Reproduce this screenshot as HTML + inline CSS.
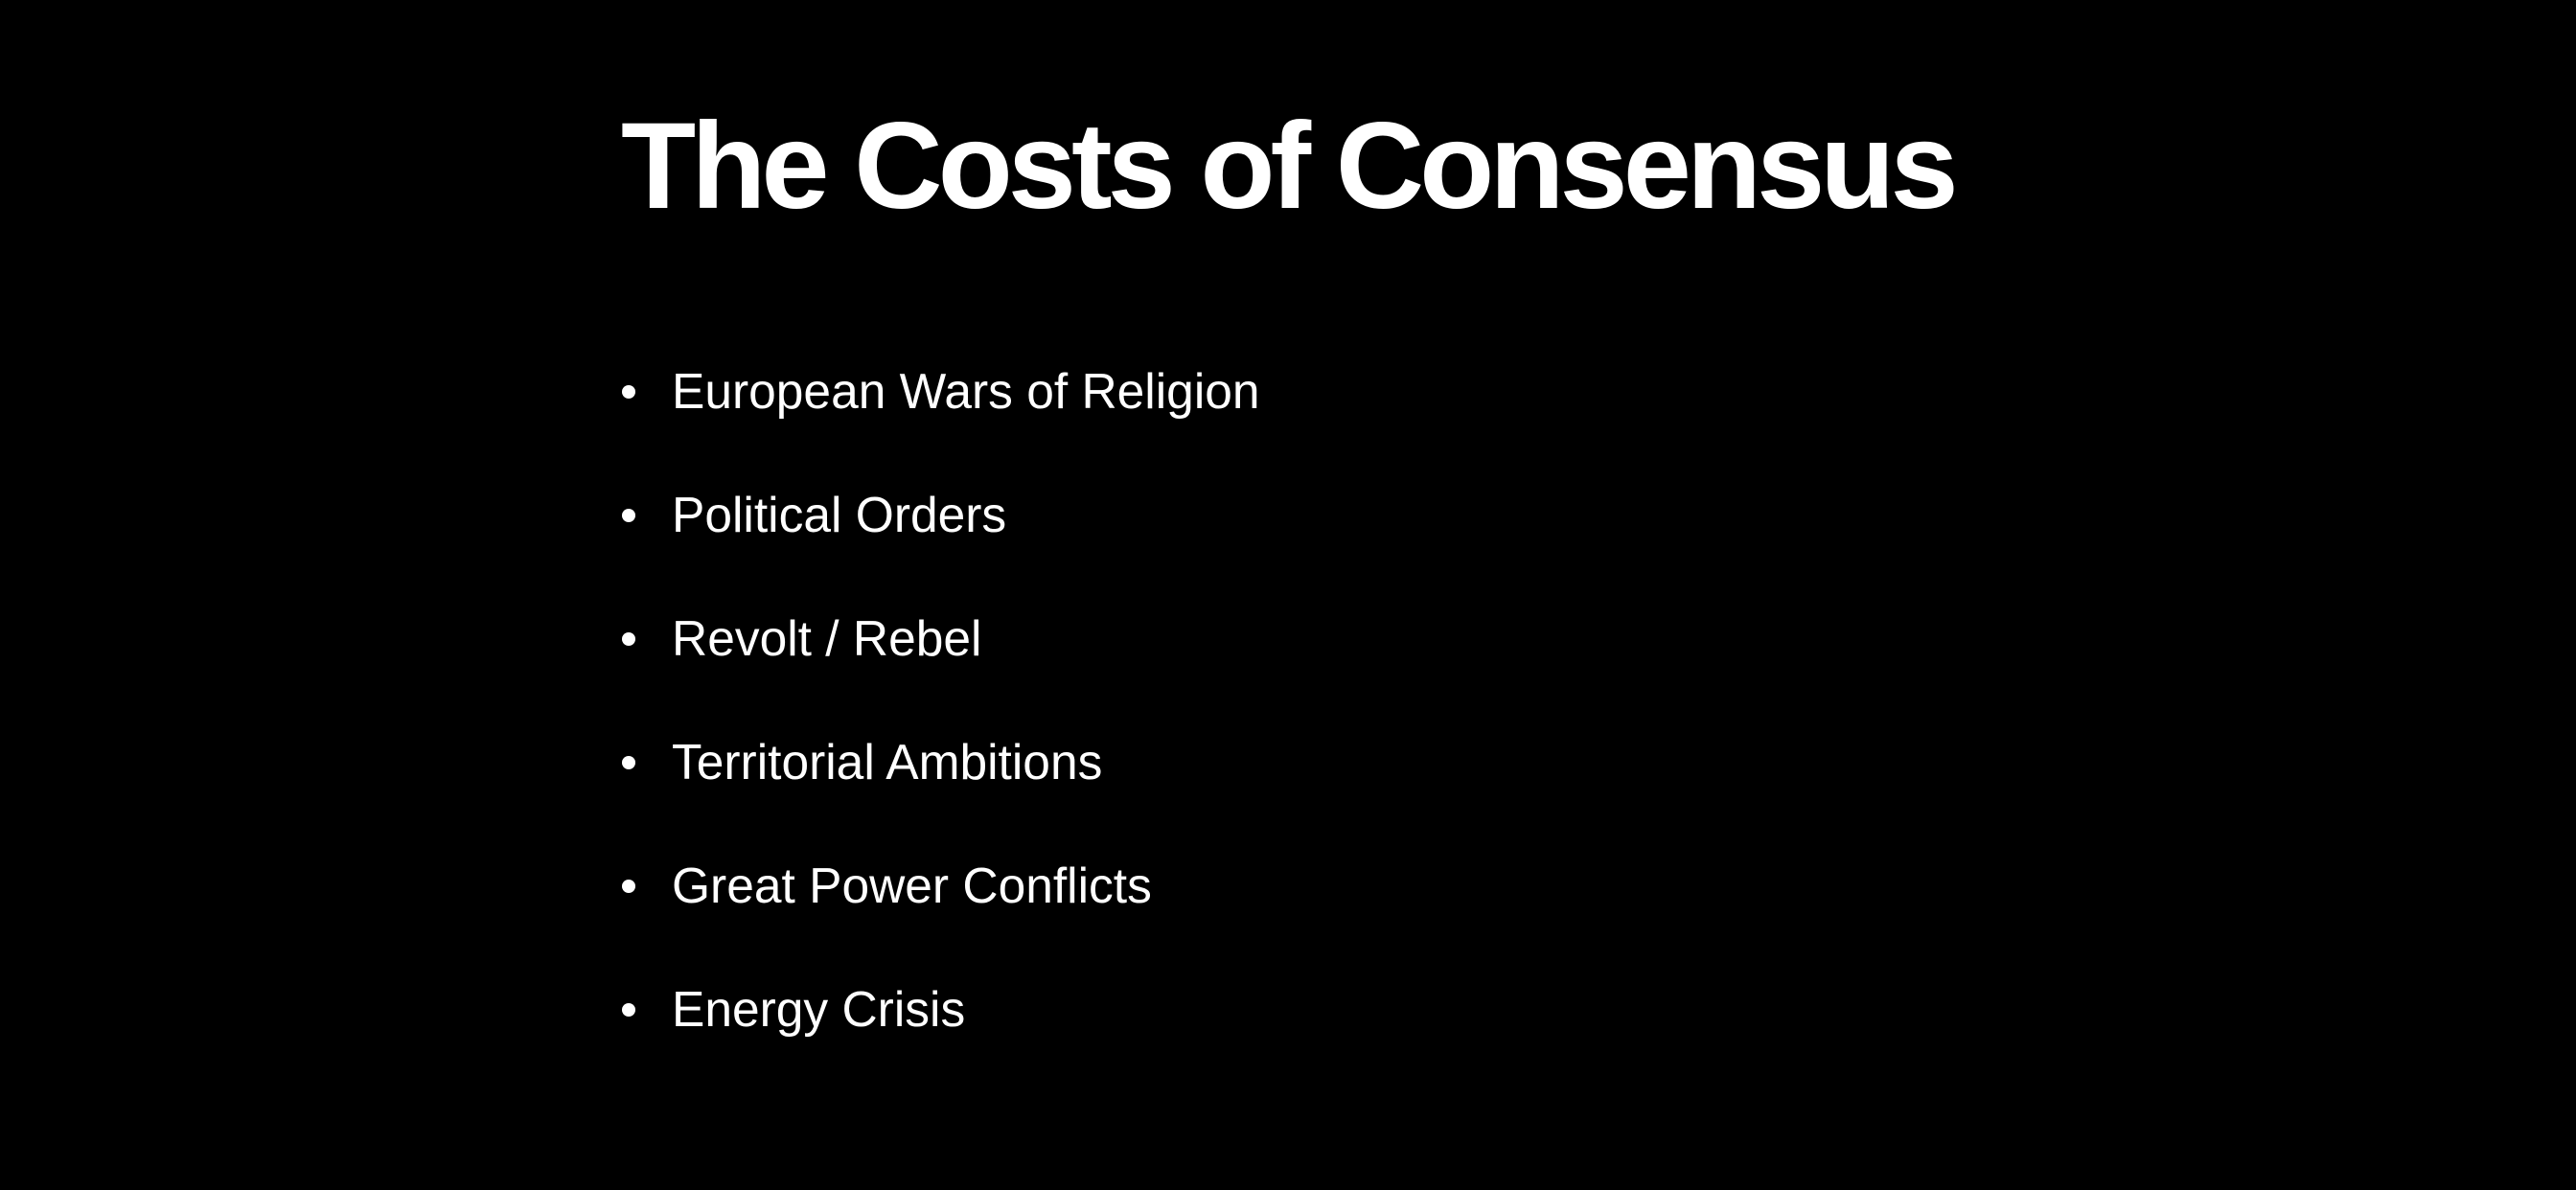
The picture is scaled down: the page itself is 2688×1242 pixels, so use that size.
<!DOCTYPE html>
<html>
<head>
<meta charset="utf-8">
<style>
html,body{margin:0;padding:0;background:#000;}
body{width:2688px;height:1242px;position:relative;overflow:hidden;font-family:"Liberation Sans",Arial,sans-serif;color:#fff;}
.title{position:absolute;left:648px;top:0;font-size:128px;font-weight:bold;letter-spacing:-5px;line-height:1;white-space:nowrap;}
.item{position:absolute;left:701px;font-size:51.5px;line-height:1;white-space:nowrap;}
.dot{position:absolute;left:649px;width:14px;height:14px;border-radius:50%;background:#fff;}
</style>
</head>
<body>
<div class="title" style="top:110px">The Costs of Consensus</div>

<div class="dot" style="top:402px"></div>
<div class="item" style="top:383px">European Wars of Religion</div>

<div class="dot" style="top:531px"></div>
<div class="item" style="top:512px">Political Orders</div>

<div class="dot" style="top:660px"></div>
<div class="item" style="top:641px">Revolt / Rebel</div>

<div class="dot" style="top:789px"></div>
<div class="item" style="top:770px">Territorial Ambitions</div>

<div class="dot" style="top:918px"></div>
<div class="item" style="top:899px">Great Power Conflicts</div>

<div class="dot" style="top:1047px"></div>
<div class="item" style="top:1028px">Energy Crisis</div>
</body>
</html>
